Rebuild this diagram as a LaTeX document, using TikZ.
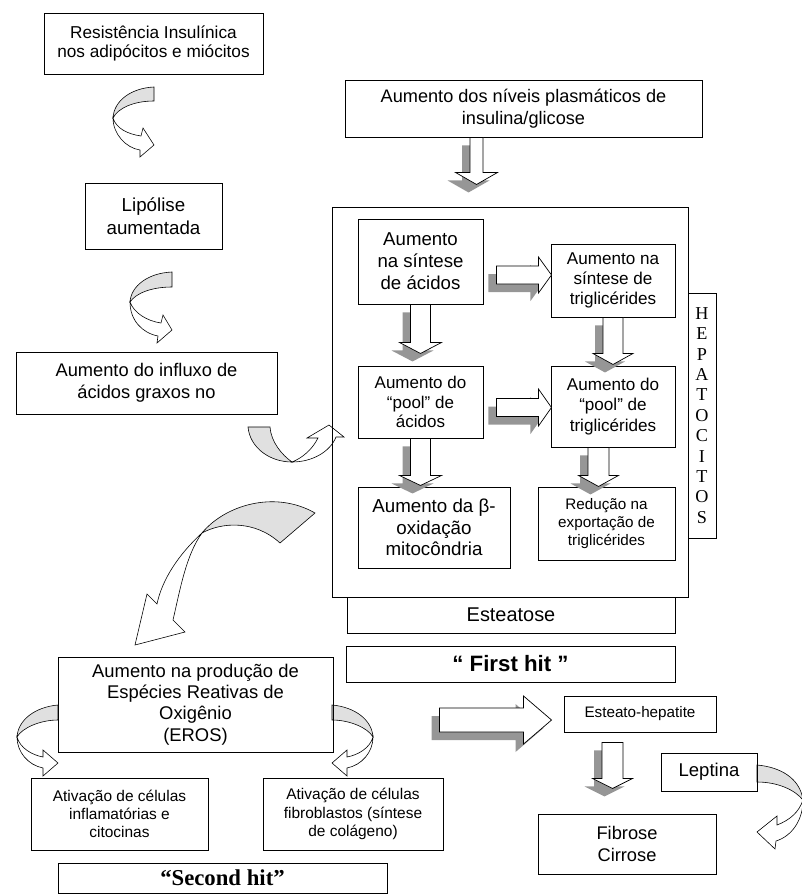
\documentclass[tikz,border=0pt]{standalone}
\usepackage{fontspec}
\setmainfont{Liberation Sans}
\newfontfamily\tnr{Liberation Serif}
\usetikzlibrary{calc,backgrounds}
\definecolor{shadowgray}{RGB}{150,150,150}
\definecolor{ribbongray}{RGB}{224,224,224}
\tikzset{blk/.style={draw,fill=white,line width=0.6pt},
  shd/.style={fill=shadowgray}}

% block arrows: start, body half width, head base, tip, head half width
\newcommand{\dnarrow}[5]{%
\begin{scope}[shift={#1}]
\fill[shd,shift={(-8,8)}] (-#2,0) -- (-#2,#3) -- (-#5,#3) -- (0,#4) -- (#5,#3) -- (#2,#3) -- (#2,0) -- cycle;
\draw[blk] (-#2,0) -- (-#2,#3) -- (-#5,#3) -- (0,#4) -- (#5,#3) -- (#2,#3) -- (#2,0) -- cycle;
\end{scope}}
\newcommand{\rtarrow}[5]{%
\begin{scope}[shift={#1}]
\fill[shd,shift={(-8,8)}] (0,-#2) -- (#3,-#2) -- (#3,-#5) -- (#4,0) -- (#3,#5) -- (#3,#2) -- (0,#2) -- cycle;
\draw[blk] (0,-#2) -- (#3,-#2) -- (#3,-#5) -- (#4,0) -- (#3,#5) -- (#3,#2) -- (0,#2) -- cycle;
\end{scope}}

\begin{document}
\begin{tikzpicture}[x=0.03cm,y=-0.03cm]
\tikzstyle{bx}=[draw,line width=0.8pt,align=center,inner sep=0pt]
\tikzstyle{rib}=[draw,fill=ribbongray,line width=0.5pt]
\tikzstyle{ribw}=[draw,fill=white,line width=0.5pt]
\useasboundingbox (0,0) rectangle (801,895);

% left column
\node[bx,minimum width=6.57cm,minimum height=1.83cm,font=\fontsize{14.7}{15.8}\selectfont](res) at (153.5,43.5){Resistência Insulínica\\nos adipócitos e miócitos};
\node[bx,minimum width=4.11cm,minimum height=1.98cm,font=\fontsize{16}{19.3}\selectfont](lip) at (153.5,216){Lipólise\\aumentada};
\node[bx,minimum width=7.83cm,minimum height=1.86cm,font=\fontsize{15.6}{18.7}\selectfont](infl) at (146.5,383){Aumento do influxo de\\ácidos graxos no};

% hepatocytes
\node[bx,minimum width=10.71cm,minimum height=1.71cm,font=\fontsize{15.5}{18.7}\selectfont](plas) at (523.5,108.5){Aumento dos níveis plasmáticos de\\insulina/glicose};
\node[bx,minimum width=10.68cm,minimum height=11.70cm](hep) at (510,402){};
\node[bx,minimum width=3.75cm,minimum height=2.55cm,font=\fontsize{15.9}{18.7}\selectfont](sa) at (420.5,261.5){Aumento\\na síntese\\de ácidos};
\node[bx,minimum width=3.72cm,minimum height=2.19cm,font=\fontsize{14.6}{17}\selectfont](st) at (613,280.5){Aumento na\\síntese de\\triglicérides};
\node[bx,minimum width=3.75cm,minimum height=2.16cm,font=\fontsize{14.5}{16.6}\selectfont](pa) at (420.5,402){Aumento do\\“pool” de\\ácidos};
\node[bx,minimum width=3.72cm,minimum height=2.43cm,font=\fontsize{14.6}{17.3}\selectfont](pt) at (613,406.5){Aumento do\\“pool” de\\triglicérides};
\node[bx,minimum width=4.56cm,minimum height=2.43cm,font=\fontsize{16}{18.5}\selectfont](bo) at (434,527.5){Aumento da β-\\oxidação\\mitocôndria};
\node[bx,minimum width=4.11cm,minimum height=2.19cm,font=\fontsize{13}{15.6}\selectfont](red) at (606.5,523.5){Redução na\\exportação de\\triglicérides};
\node[bx,minimum width=0.84cm,minimum height=7.35cm,font=\tnr\fontsize{15.5}{17.4}\selectfont](hepa) at (702,415.5){H\\E\\P\\A\\T\\O\\C\\I\\T\\O\\S};
\node[bx,minimum width=9.84cm,minimum height=1.08cm,font=\fontsize{17}{20}\selectfont](est) at (511,615){Esteatose};
\node[bx,minimum width=9.87cm,minimum height=1.08cm,font=\bfseries\fontsize{19}{22}\selectfont](first) at (510.5,664){“ First hit ”};

% second hit
\node[bx,minimum width=8.25cm,minimum height=2.85cm,font=\fontsize{15.7}{18.3}\selectfont](eros) at (195.5,704.5){Aumento na produção de\\Espécies Reativas de\\Oxigênio\\(EROS)};
\node[bx,minimum width=5.31cm,minimum height=2.16cm,font=\fontsize{13.2}{15.6}\selectfont](inf) at (119.5,814){Ativação de células\\inflamatórias e\\citocinas};
\node[bx,minimum width=5.40cm,minimum height=2.16cm,font=\fontsize{13.2}{15.6}\selectfont](fib) at (353,814){Ativação de células\\fibroblastos (síntese\\de colágeno)};
\node[bx,minimum width=9.87cm,minimum height=0.90cm,font=\tnr\bfseries\fontsize{19.4}{22}\selectfont](second) at (222.5,878){“Second hit”};
\node[bx,minimum width=4.56cm,minimum height=1.08cm,font=\fontsize{13}{15.6}\selectfont](esthep) at (640,714){Esteato-hepatite};
\node[bx,minimum width=2.88cm,minimum height=1.14cm,font=\fontsize{15.8}{18.7}\selectfont](lep) at (709,772){Leptina};
\node[bx,minimum width=5.34cm,minimum height=1.80cm,font=\fontsize{15.6}{18.5}\selectfont](fibc) at (627,844){Fibrose\\Cirrose};

% block arrows
\dnarrow{($(plas.south west)+(132,0)$)}{6.5}{35}{47}{21}
\dnarrow{(sa.south)}{10}{38}{49}{21}
\dnarrow{(st.south)}{10}{36}{47}{20}
\dnarrow{(pa.south)}{10}{37}{47}{21}
\dnarrow{($(pt.south)+(-14.5,0)$)}{10.5}{28}{39}{20}
\rtarrow{($(sa.east)+(13,13.5)$)}{9}{42}{55}{18}
\rtarrow{($(pa.east)+(13,5.5)$)}{9}{42}{55}{18.5}
\rtarrow{($(esthep.west)+(-124,6)$)}{12}{84}{112}{24}
\dnarrow{($(esthep.south)+(-27.5,10)$)}{10.5}{36}{46}{20}

% curved arrows
\begin{pgfonlayer}{background}
\draw[rib] (154,87) .. controls (132,88) and (114,100) .. (113,118) .. controls (118,108) and (134,101) .. (154,101) -- cycle;
\draw[ribw] (113,118) .. controls (113,134) and (126,148) .. (140,150) -- (140,157) -- (154,145) -- (143,128) -- (141,136) .. controls (127,134) and (116,128) .. (113,118) -- cycle;
\draw[rib] (172,272) .. controls (148,273) and (131,286) .. (130,302) .. controls (136,293) and (152,287) .. (172,287) -- cycle;
\draw[ribw] (130,302) .. controls (130,320) and (142,333) .. (158,336) -- (157,343) -- (172,330) -- (163,315) -- (161,323) .. controls (147,321) and (134,313) .. (130,302) -- cycle;
\draw[rib] (248,427) .. controls (250,448) and (270,462) .. (292,462) .. controls (282,455) and (271,442) .. (270,427) -- cycle;
\draw[ribw] (292,462) .. controls (312,462) and (330,452) .. (336,437) -- (344,437) -- (329,425) -- (307,438) -- (318,438) .. controls (312,450) and (302,458) .. (292,462) -- cycle;
\draw[rib] (315,513) .. controls (275,490) and (225,505) .. (202,533) .. controls (222,522) and (255,520) .. (280,543) -- cycle;
\draw[ribw] (202,533) .. controls (178,555) and (162,580) .. (157,604) -- (147,594) -- (135,645) -- (185,632) -- (173,620) .. controls (180,590) and (186,555) .. (202,533) -- cycle;
\draw[rib] (58,705) .. controls (35,707) and (18,720) .. (17,737) .. controls (22,728) and (40,720) .. (58,720) -- cycle;
\draw[ribw] (17,737) .. controls (17,752) and (28,765) .. (43,768) -- (43,776) -- (58,763) -- (43,750) -- (43,757) .. controls (32,755) and (20,748) .. (17,737) -- cycle;
\draw[rib] (332,705) .. controls (355,707) and (372,720) .. (373,737) .. controls (368,728) and (350,720) .. (332,720) -- cycle;
\draw[ribw] (373,737) .. controls (373,752) and (362,765) .. (347,768) -- (347,776) -- (332,763) -- (347,750) -- (347,757) .. controls (358,755) and (370,748) .. (373,737) -- cycle;
\draw[rib] (757,765) .. controls (780,767) and (800,778) .. (803,800) .. controls (795,790) and (778,782) .. (757,782) -- cycle;
\draw[ribw] (803,800) .. controls (803,820) and (792,836) .. (776,841) -- (775,849) -- (757,832) -- (777,816) -- (777,825) .. controls (790,820) and (799,812) .. (803,800) -- cycle;
\end{pgfonlayer}
\end{tikzpicture}
\end{document}
